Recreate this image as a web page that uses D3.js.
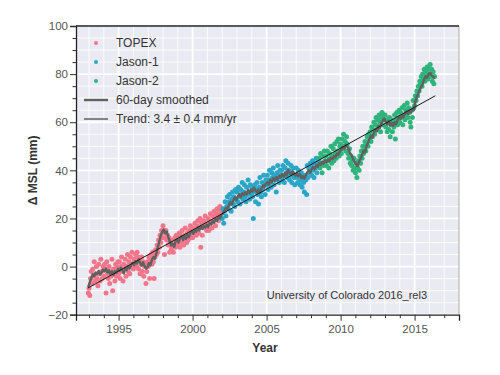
<!DOCTYPE html>
<html>
<head>
<meta charset="utf-8">
<script src="https://cdn.jsdelivr.net/npm/d3@7"></script>
<style>
  body { margin: 0; background: #fff; }
  text { font-family: "Liberation Sans", Arial, sans-serif; }
</style>
</head>
<body>
<svg id="chart" width="500" height="375"></svg>
<script>
// altimetry series, sampled every 0.05 yr from the start year
var step = 0.05;
var topexStart = 1992.95;
var topex = [-11,
  -9, -12, -5, -2, -7, -1, -4, 2, -6, -3, 0, -5, -8, 1, -3, -6, 3, -2, -5, 0,
  -4, 1, -1, -11, 2, -3, -5, 0, -7, -2, -4, 3, -10, -1, -3, -6, 1, -4, 0, 2,
  -3, 2, -5, 0, 4, -2, -6, 1, -1, 3, -4, 0, 5, -2, 2, -3, 4, 1, 6, 0,
  -1, 3, 2, 5, 0, 6, 4, -1, 3, -3, 1, 4, -2, 2, -4, 0, 1, -7, -2, 2,
  0, 4, -5, 3, 5, 1, 6, 2, -5, 4, 7, 5, 9, 6, 11, 8, 13, 10, 15, 12,
  17, 14, 5, 12, 15, 11, 13, 9, 12, 6, 10, 7, 8, 11, 6, 9, 12, 8, 13, 10,
  9, 12, 14, 8, 13, 10, 15, 11, 9, 13, 16, 12, 10, 14, 11, 15, 13, 17, 12, 16,
  12, 16, 14, 18, 15, 13, 17, 19, 14, 16, 20, 8, 18, 13, 17, 19, 16, 21, 18, 15,
  17, 20, 15, 19, 22, 18, 16, 21, 19, 23, 20, 17, 22, 24, 21, 19, 23, 25, 22, 24];

var jason1Start = 2002.0;
var jason1 = [
  20, 24, 18, 23, 27, 21, 25, 29, 24, 27, 30, 26, 23, 28, 31, 26, 29, 25, 32, 28,
  31, 27, 33, 29, 26, 32, 30, 35, 28, 31, 34, 29, 27, 33, 30, 36, 31, 28, 34, 30,
  33, 29, 20, 31, 34, 27, 32, 35, 30, 26, 33, 37, 31, 29, 35, 32, 38, 34, 30, 36,
  34, 38, 32, 36, 40, 35, 33, 39, 37, 41, 34, 38, 36, 31, 39, 42, 37, 35, 40, 38,
  40, 36, 42, 38, 35, 41, 44, 39, 37, 43, 40, 36, 38, 42, 35, 39, 41, 37, 34, 38,
  41, 37, 35, 40, 38, 34, 36, 39, 33, 37, 35, 31, 38, 36, 30, 42, 37, 41, 39, 43,
  42, 38, 44, 40, 37, 43, 41, 45, 39, 42, 44];

var jason2Start = 2008.55;
var jason2 = [45, 41, 47, 43, 39, 46, 42, 48, 44,
  46, 42, 48, 44, 41, 47, 45, 50, 43, 46, 49, 44, 51, 47, 45, 52, 48, 53, 46, 50,
  51, 47, 53, 49, 55, 50, 52, 48, 54, 51, 47, 45, 49, 43, 46, 42, 44, 40, 45, 41,
  39, 43, 37, 41, 44, 40, 46, 43, 48, 45, 50, 47, 49, 52, 48, 51, 54, 50, 55, 53,
  56, 52, 58, 54, 57, 60, 55, 59, 62, 57, 61, 58, 63, 60, 56, 62, 64, 59, 63, 61,
  63, 58, 61, 56, 60, 57, 62, 54, 59, 61, 56, 60, 58, 63, 53, 61, 64, 59, 62, 65,
  60, 64, 62, 66, 59, 63, 67, 61, 65, 63, 68, 62, 66, 64, 60, 58, 65, 62, 69, 66,
  67, 71, 69, 73, 71, 75, 73, 77, 76, 79, 75, 80, 78, 82, 77, 81, 79, 83, 78, 82,
  80, 84, 79, 82, 77, 81, 76, 79];

// 60-day smoothed, every 0.1 yr
var smoothStart = 1992.95, smoothStep = 0.1;
var smoothed = [-8.5,
  -6.5, -4.8, -3.2, -4.0, -2.6, -3.1, -1.8, -3.3, -2.4, -1.2,
  -2.0, -0.8, -2.5, -1.5, -3.2, -2.0, -3.5, -1.8, -2.6, -0.9,
  -1.8, -0.5, -1.6, -2.8, -0.6, -1.5, 0.3, -0.8, 0.9, 1.6,
  0.7, 2.2, 1.3, 3.0, 1.6, 0.4, 1.8, 0.2, -0.8, -0.3,
  1.5, 0.6, 2.8, 4.0, 3.2, 5.5, 8.0, 10.5, 13.0, 14.5,
  15.5, 13.8, 14.6, 12.5, 10.6, 8.8, 9.6, 8.2, 10.5, 11.2,
  10.0, 11.8, 12.6, 11.0, 12.8, 11.5, 13.4, 12.2, 14.0, 14.8,
  13.6, 15.2, 14.5, 16.3, 15.0, 16.8, 15.6, 17.0, 16.2, 17.5,
  16.4, 18.2, 17.5, 19.0, 18.2, 19.8, 19.0, 20.6, 20.0, 21.5,
  22.0, 23.2, 24.5, 23.8, 25.6, 26.8, 25.9, 27.5, 28.8, 27.6,
  29.0, 30.2, 28.8, 30.5, 29.6, 31.0, 30.0, 31.8, 30.6, 32.0,
  31.2, 32.8, 31.6, 30.8, 32.0, 30.6, 32.5, 33.8, 33.0, 34.5,
  35.0, 34.0, 36.2, 35.0, 36.8, 35.6, 37.2, 36.0, 37.8, 37.0,
  38.5, 37.2, 39.0, 38.0, 40.2, 39.0, 38.2, 39.6, 38.6, 37.8,
  38.8, 37.5, 38.5, 36.8, 37.6, 36.5, 38.0, 39.2, 40.0, 39.0,
  40.6, 41.5, 40.5, 42.2, 41.4, 43.0, 42.2, 43.6, 42.8, 44.2,
  43.4, 44.6, 43.8, 45.2, 44.6, 46.0, 45.4, 47.0, 46.5, 48.0,
  48.6, 49.8, 49.0, 50.6, 50.0, 48.5, 47.0, 46.2, 44.5, 43.6,
  42.5, 41.8, 43.6, 44.8, 46.5, 48.2, 47.5, 50.0, 51.5, 53.0,
  54.5, 53.6, 55.8, 57.0, 56.2, 58.5, 57.6, 59.5, 60.8, 61.5,
  60.2, 59.0, 60.5, 58.6, 59.8, 58.5, 60.0, 59.2, 61.0, 62.0,
  61.5, 62.8, 62.0, 63.6, 64.5, 63.4, 64.8, 64.0, 65.5, 65.0,
  68.5, 70.5, 72.0, 73.5, 74.8, 76.0, 78.0, 79.2, 78.5, 80.0,
  80.6, 79.5, 79.0, 78.0];

var trendYears = [1992.93, 2016.4];
var trendValues = [-8.9, 71.0];

var legendLabels = ["TOPEX", "Jason-1", "Jason-2", "60-day smoothed", "Trend: 3.4 \u00b1 0.4 mm/yr"];
var xTicks = [1995, 2000, 2005, 2010, 2015];
var yTicks = [-20, 0, 20, 40, 60, 80, 100];

var colors = { TOPEX: "#f2768a", "Jason-1": "#2aa6c7", "Jason-2": "#2fb47c" };

(function () {
var svg = d3.select("#chart");
var pLeft = 76, pRight = 459, pTop = 26, pBottom = 314.7;

var x = d3.scaleLinear().domain([1992.12, 2018.0]).range([pLeft, pRight]);
var y = d3.scaleLinear().domain([-20, 100]).range([pBottom, pTop]);

// background
svg.append("rect")
    .attr("x", pLeft).attr("y", pTop)
    .attr("width", pRight - pLeft).attr("height", pBottom - pTop)
    .attr("fill", "#eaeaf2");

// grid
var minorX = d3.range(1993, 2018, 1).filter(d => xTicks.indexOf(d) < 0);
var minorY = d3.range(-15, 100, 5).filter(d => yTicks.indexOf(d) < 0);
var grid = svg.append("g");
grid.selectAll(".gx-minor").data(minorX).enter().append("line")
    .attr("x1", d => x(d)).attr("x2", d => x(d))
    .attr("y1", pTop).attr("y2", pBottom)
    .attr("stroke", "#fff").attr("stroke-width", 1).attr("stroke-opacity", 0.85);
grid.selectAll(".gy-minor").data(minorY).enter().append("line")
    .attr("y1", d => y(d)).attr("y2", d => y(d))
    .attr("x1", pLeft).attr("x2", pRight)
    .attr("stroke", "#fff").attr("stroke-width", 1).attr("stroke-opacity", 0.85);
grid.selectAll(".gx").data(xTicks).enter().append("line")
    .attr("x1", d => x(d)).attr("x2", d => x(d))
    .attr("y1", pTop).attr("y2", pBottom)
    .attr("stroke", "#fff").attr("stroke-width", 1.8);
grid.selectAll(".gy").data(yTicks).enter().append("line")
    .attr("y1", d => y(d)).attr("y2", d => y(d))
    .attr("x1", pLeft).attr("x2", pRight)
    .attr("stroke", "#fff").attr("stroke-width", 1.8);

// scatter points
function pts(start, vals, name) {
    return vals.map((v, i) => ({ yr: start + i * step, v: v, name: name }));
}
var allPts = pts(topexStart, topex, "TOPEX")
    .concat(pts(jason1Start, jason1, "Jason-1"))
    .concat(pts(jason2Start, jason2, "Jason-2"));

svg.append("g").selectAll("circle").data(allPts).enter().append("circle")
    .attr("cx", d => x(d.yr)).attr("cy", d => y(d.v))
    .attr("r", 2.5)
    .attr("fill", d => colors[d.name]);

// smoothed line
var line = d3.line().x(d => x(d[0])).y(d => y(d[1]));
svg.append("path")
    .datum(smoothed.map((v, i) => [smoothStart + i * smoothStep, v]))
    .attr("d", line)
    .attr("fill", "none").attr("stroke", "#606060").attr("stroke-width", 2.4)
    .attr("stroke-linejoin", "round");

// trend
svg.append("path")
    .datum(trendYears.map((t, i) => [t, trendValues[i]]))
    .attr("d", line)
    .attr("fill", "none").attr("stroke", "#1a1a1a").attr("stroke-width", 1);

// spines
svg.append("line").attr("x1", pRight).attr("x2", pRight).attr("y1", pTop).attr("y2", pBottom)
    .attr("stroke", "#999").attr("stroke-width", 0.8);
svg.append("line").attr("x1", pLeft).attr("x2", pRight).attr("y1", pTop).attr("y2", pTop)
    .attr("stroke", "#222").attr("stroke-width", 1.3);

// axes
svg.append("g").attr("transform", "translate(0," + pBottom + ")")
    .call(d3.axisBottom(x).tickValues(xTicks).tickFormat(d3.format("d")).tickSize(6).tickPadding(4));
svg.append("g").attr("transform", "translate(0," + pBottom + ")")
    .call(d3.axisBottom(x).tickValues(minorX).tickFormat("").tickSize(3.5))
    .select(".domain").remove();
svg.append("g").attr("transform", "translate(" + pLeft + ",0)")
    .call(d3.axisLeft(y).tickValues(yTicks).tickFormat(d => d < 0 ? "\u2212" + (-d) : d).tickSize(6).tickPadding(2));
svg.append("g").attr("transform", "translate(" + pLeft + ",0)")
    .call(d3.axisLeft(y).tickValues(minorY).tickFormat("").tickSize(3.5))
    .select(".domain").remove();

svg.selectAll(".domain").attr("stroke", "#222").attr("stroke-width", 1.3);
svg.selectAll(".tick line").attr("stroke", "#333");
svg.selectAll(".tick text").attr("fill", "#555").style("font-size", "11.5px")
    .style("font-family", "'Liberation Sans', Arial, sans-serif");

// axis titles
svg.append("text").attr("x", 265).attr("y", 352)
    .attr("text-anchor", "middle").attr("fill", "#333")
    .style("font-size", "12px").style("font-weight", "bold")
    .text("Year");
svg.append("text")
    .attr("transform", "translate(37," + ((pTop + pBottom) / 2) + ") rotate(-90)")
    .attr("text-anchor", "middle").attr("fill", "#333")
    .style("font-size", "12px").style("font-weight", "bold")
    .text("\u0394 MSL (mm)");

// annotation
svg.append("text").attr("x", 427).attr("y", 299)
    .attr("text-anchor", "end").attr("fill", "#333")
    .style("font-size", "11px")
    .text("University of Colorado 2016_rel3");

// legend
var lg = svg.append("g");
var rowY = [43, 62, 81, 100, 119];
legendLabels.forEach(function (lab, i) {
    var yy = rowY[i];
    if (i < 3) {
        lg.append("circle").attr("cx", 96).attr("cy", yy).attr("r", 2)
            .attr("fill", colors[lab]);
    } else {
        lg.append("line").attr("x1", 84).attr("x2", 108).attr("y1", yy).attr("y2", yy)
            .attr("stroke", i === 3 ? "#606060" : "#1a1a1a")
            .attr("stroke-width", i === 3 ? 2.4 : 1);
    }
    lg.append("text").attr("x", 116).attr("y", yy).attr("dy", "0.35em")
        .attr("fill", "#333").style("font-size", "12px")
        .text(lab);
});
})();
</script>
</body>
</html>
